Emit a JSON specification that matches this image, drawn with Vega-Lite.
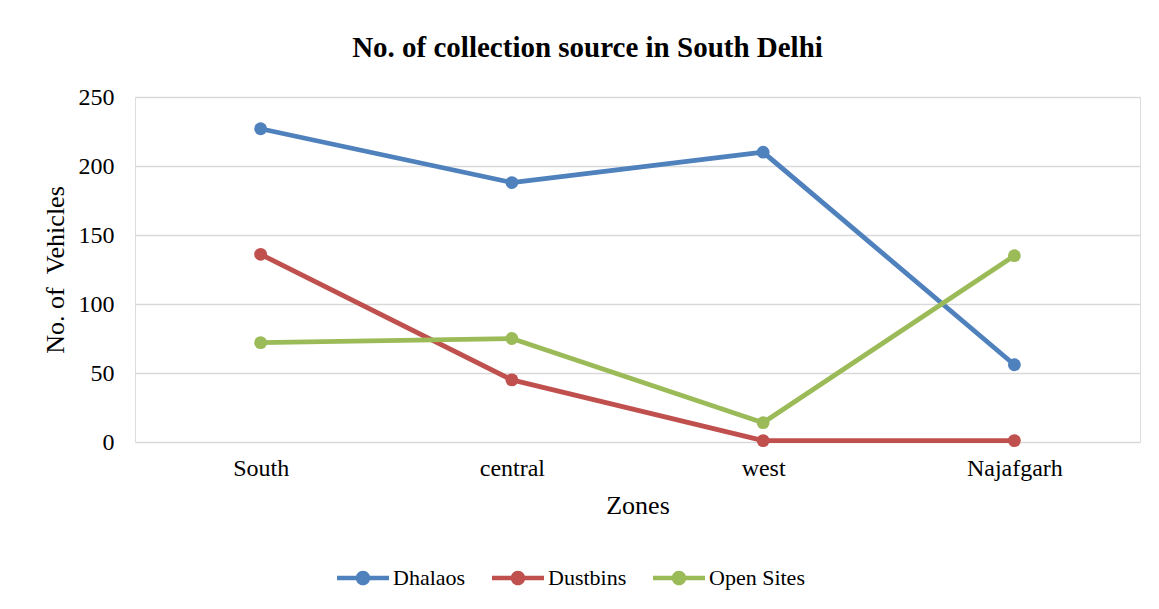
{
  "$schema": "https://vega.github.io/schema/vega-lite/v6.json",
  "autosize": {"type": "none"},
  "padding": {"left": 135, "top": 97, "right": 19, "bottom": 167},
  "width": 1005,
  "height": 345,
  "background": "white",
  "config": {"font": "Liberation Serif", "legend": {"labelFont": "Liberation Serif", "labelFontSize": 22}},
  "title": {"text": "No. of collection source in South Delhi", "font": "Liberation Serif", "fontSize": 29, "fontWeight": "bold", "color": "#000000", "anchor": "middle", "dx": -50, "offset": 22},
  "data": {"values": [
    {"zone": "South", "series": "Dhalaos", "value": 227},
    {"zone": "central", "series": "Dhalaos", "value": 188},
    {"zone": "west", "series": "Dhalaos", "value": 210},
    {"zone": "Najafgarh", "series": "Dhalaos", "value": 56},
    {"zone": "South", "series": "Dustbins", "value": 136},
    {"zone": "central", "series": "Dustbins", "value": 45},
    {"zone": "west", "series": "Dustbins", "value": 1},
    {"zone": "Najafgarh", "series": "Dustbins", "value": 1},
    {"zone": "South", "series": "Open Sites", "value": 72},
    {"zone": "central", "series": "Open Sites", "value": 75},
    {"zone": "west", "series": "Open Sites", "value": 14},
    {"zone": "Najafgarh", "series": "Open Sites", "value": 135}
  ]},
  "encoding": {
    "x": {"field": "zone", "type": "ordinal", "sort": ["South", "central", "west", "Najafgarh"],
      "scale": {"type": "point", "padding": 0.5},
      "axis": {"title": "Zones", "labelAngle": 0, "domain": false, "ticks": false, "grid": false, "labelPadding": 14, "titlePadding": 12,
        "labelFont": "Liberation Serif", "labelFontSize": 24, "labelColor": "#000000",
        "titleFont": "Liberation Serif", "titleFontSize": 26, "titleFontWeight": "normal", "titleColor": "#000000"}},
    "y": {"field": "value", "type": "quantitative", "scale": {"domain": [0, 250]},
      "axis": {"title": "No. of \u00a0Vehicles", "values": [0, 50, 100, 150, 200, 250], "domain": false, "ticks": false,
        "gridColor": "#D9D9D9", "gridWidth": 1.5, "labelPadding": 21,
        "labelFont": "Liberation Serif", "labelFontSize": 24, "labelColor": "#000000",
        "titleFont": "Liberation Serif", "titleFontSize": 26, "titleFontWeight": "normal", "titleColor": "#000000", "titlePadding": 10}},
    "color": {"field": "series", "type": "nominal",
      "scale": {"domain": ["Dhalaos", "Dustbins", "Open Sites"], "range": ["#4F81BD", "#C0504D", "#9BBB59"]},
      "legend": {"title": null, "orient": "none", "direction": "horizontal", "legendX": 202, "legendY": 455,
        "symbolType": "M-1,-0.09 H1 V0.09 H-1 Z M-0.28,0 A0.28,0.28 0 1,1 0.28,0 A0.28,0.28 0 1,1 -0.28,0 Z",
        "symbolSize": 2704, "symbolStrokeWidth": 0, "symbolOpacity": 1,
        "labelFont": "Liberation Serif", "labelFontSize": 22, "labelColor": "#000000", "labelOffset": 4, "columnPadding": 26,
        "encode": {"labels": {"update": {"font": {"value": "Liberation Serif"}, "fontSize": {"value": 22}}}}}}
  },
  "layer": [
    {"mark": {"type": "line", "strokeWidth": 4.8, "strokeCap": "round", "strokeJoin": "round"}},
    {"mark": {"type": "circle", "size": 165, "opacity": 1}}
  ]
}
